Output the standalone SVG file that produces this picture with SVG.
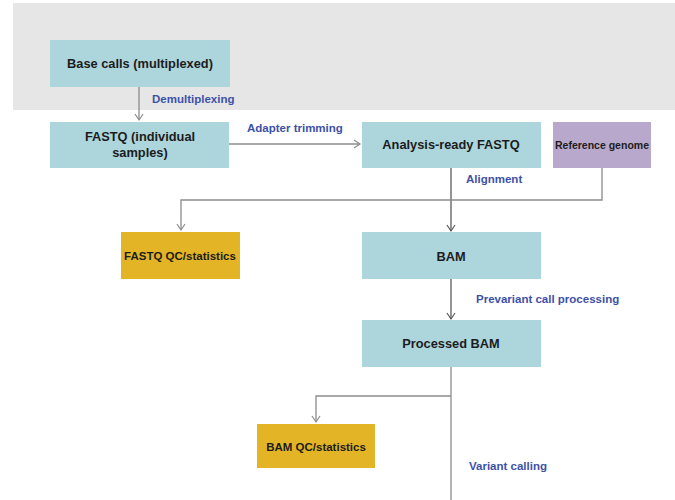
<svg xmlns="http://www.w3.org/2000/svg" width="675" height="500" viewBox="0 0 675 500">
<style>
.box{fill:#acd5dc}
.qc{fill:#e3b526}
.ref{fill:#b8a9cc}
.t{font-family:"Liberation Sans",Arial,sans-serif;font-weight:bold;font-size:12.8px;fill:#1c1c1c;text-anchor:middle}
.lbl{font-family:"Liberation Sans",Arial,sans-serif;font-weight:bold;font-size:11.5px;fill:#3d51a8}
.c{fill:none;stroke:#8c8c8c;stroke-width:1.3}
.cd{fill:none;stroke:#5a5a5a;stroke-width:1.3}
</style>
<defs>
<marker id="ah" markerWidth="10" markerHeight="10" refX="8" refY="5" orient="auto" markerUnits="userSpaceOnUse">
<path d="M2,1 L8,5 L2,9" fill="none" stroke="#8c8c8c" stroke-width="1.2"/>
</marker>
<marker id="ahd" markerWidth="10" markerHeight="10" refX="8" refY="5" orient="auto" markerUnits="userSpaceOnUse">
<path d="M2,1 L8,5 L2,9" fill="none" stroke="#5a5a5a" stroke-width="1.2"/>
</marker>
</defs>
<rect width="675" height="500" fill="#ffffff"/>
<rect x="13" y="3" width="662" height="107" fill="#e6e6e6"/>
<g id="connectors">
<path class="c" d="M139,87 V120" marker-end="url(#ah)"/>
<path class="c" d="M229,144 H360" marker-end="url(#ah)"/>
<path class="cd" d="M451,168 V231" marker-end="url(#ahd)"/>
<path class="c" d="M602,168 V200 H181 V230" marker-end="url(#ah)"/>
<path class="cd" d="M451,279 V319" marker-end="url(#ahd)"/>
<path class="c" d="M451,367 V500"/>
<path class="c" d="M451,396 H316 V422" marker-end="url(#ah)"/>
<text class="lbl" x="152" y="103">Demultiplexing</text>
<text class="lbl" x="247" y="132">Adapter trimming</text>
<text class="lbl" x="466" y="183">Alignment</text>
<text class="lbl" x="476" y="303">Prevariant call processing</text>
<text class="lbl" x="469" y="470">Variant calling</text>
</g>
<g id="base-calls"><rect class="box" x="50" y="40" width="180" height="47"/><text class="t" x="140" y="68">Base calls (multiplexed)</text></g>
<g id="fastq"><rect class="box" x="50" y="122" width="179" height="46"/><text class="t" x="140" y="141">FASTQ (individual</text><text class="t" x="140" y="157">samples)</text></g>
<g id="analysis-ready"><rect class="box" x="362" y="122" width="179" height="46"/><text class="t" x="451" y="149">Analysis-ready FASTQ</text></g>
<g id="reference-genome"><rect class="ref" x="553" y="122" width="98" height="46"/><text class="t" x="602" y="149" style="font-size:10.5px">Reference genome</text></g>
<g id="fastq-qc"><rect class="qc" x="121" y="232" width="119" height="47"/><text class="t" x="180" y="260" style="font-size:11.5px">FASTQ QC/statistics</text></g>
<g id="bam"><rect class="box" x="362" y="232" width="179" height="47"/><text class="t" x="451" y="261">BAM</text></g>
<g id="processed-bam"><rect class="box" x="362" y="320" width="179" height="47"/><text class="t" x="451" y="348">Processed BAM</text></g>
<g id="bam-qc"><rect class="qc" x="257" y="424" width="118" height="44"/><text class="t" x="316" y="451" style="font-size:11.5px">BAM QC/statistics</text></g>
</svg>
